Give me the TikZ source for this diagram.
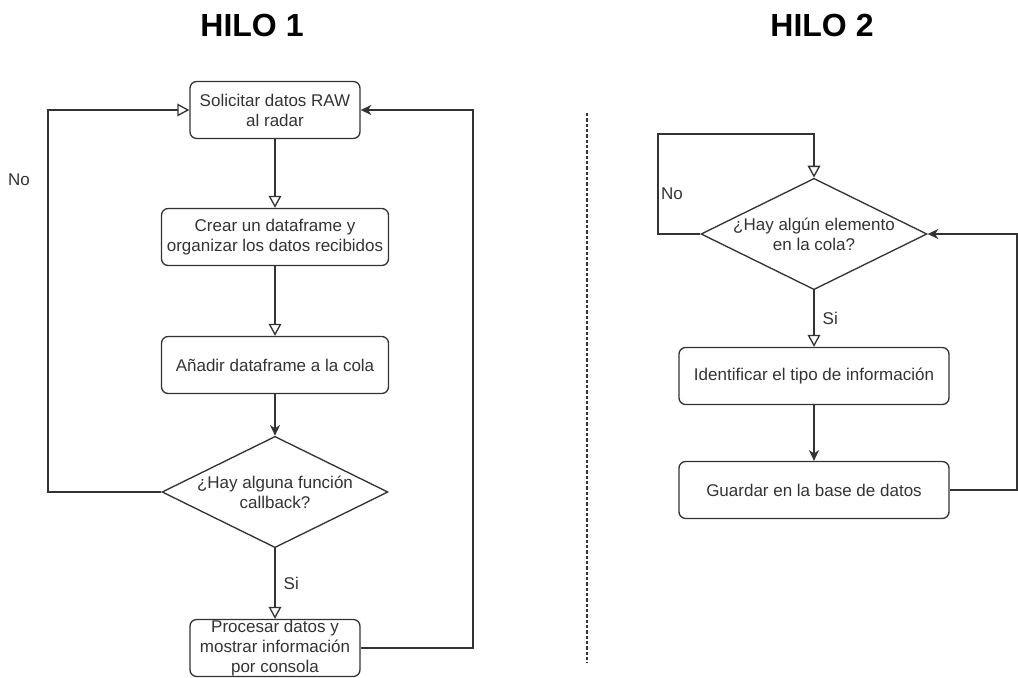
\documentclass[tikz,border=0pt]{standalone}
\usepackage{fontspec}
\setmainfont{Liberation Sans}
\usetikzlibrary{
  arrows.meta,
  shapes.geometric,
  positioning
}
\definecolor{flowLine}{HTML}{333333}
\definecolor{flowText}{HTML}{333333}

\tikzset{
  process/.style={draw=flowLine, line width=1pt, rounded corners=5pt, align=center,
    text=flowText, font=\fontsize{12.75}{15}\selectfont, inner sep=0pt},
  decision/.style={draw=flowLine, line width=1pt, shape=diamond, inner sep=0pt,
    minimum width=169.5pt, minimum height=83.5pt},
  dectext/.style={align=center, text=flowText, font=\fontsize{12.75}{15}\selectfont},
  lbl/.style={text=flowText, font=\fontsize{12.75}{15}\selectfont, inner sep=1pt},
  hilo/.style={font=\fontsize{24}{28}\selectfont\bfseries},
  openarrow/.style={draw=flowLine, line width=1pt, -{Triangle[open, length=9pt, width=9.5pt]}},
  fillarrow/.style={draw=flowLine, line width=1pt, -{Stealth[length=8pt, width=7.5pt, inset=2.5pt]}},
  link/.style={draw=flowLine, line width=1pt}
}

\begin{document}
\begin{tikzpicture}[x=0.75pt, y=-0.75pt]
  \useasboundingbox (0,0) rectangle (1018,678);

  % titulos
  \node[hilo] (title1) at (252,25) {HILO 1};
  \node[hilo] (title2) at (822,25) {HILO 2};

  % hilo 1
  \node[process, minimum width=127.5pt, minimum height=42.75pt] (solicitar) at (275,110)
    {Solicitar datos RAW\\al radar};
  \node[process, minimum width=170.25pt, minimum height=42.75pt] (crear) at (275,237)
    {Crear un dataframe y\\organizar los datos recibidos};
  \node[process, minimum width=170.25pt, minimum height=42.75pt] (anadir) at (275,365)
    {Añadir dataframe a la cola};
  \node[decision] (callback) at (275,492) {};
  \node[dectext] (callbacktxt) at (callback) {¿Hay alguna función\\callback?};
  \node[process, minimum width=127.5pt, minimum height=42.75pt] (procesar) at (275,648)
    {Procesar datos y\\mostrar información\\por consola};

  \coordinate (noLeft) at (48,110);
  \coordinate (backRight) at (473,110);

  \draw[openarrow] (solicitar) -- (crear);
  \draw[openarrow] (crear) -- (anadir);
  \draw[fillarrow] (anadir) -- (callback);
  \draw[openarrow] (callback) -- node[lbl, right=5pt] (si1) {Si} (procesar);
  \draw[openarrow] (callback.west) -| (noLeft) -- (solicitar.west);
  \draw[fillarrow] (procesar.east) -| (backRight) -- (solicitar.east);
  \node[lbl] (no1) at (19,180) {No};

  % separador
  \draw[flowLine, line width=0.9pt, dash pattern=on 2.5pt off 1.5pt] (587,113) -- (587,663);

  % hilo 2
  \node[decision] (cola) at (814,234) {};
  \node[dectext] (colatxt) at (cola) {¿Hay algún elemento\\en la cola?};
  \node[process, minimum width=202.5pt, minimum height=42.75pt] (identificar) at (814,376)
    {Identificar el tipo de información};
  \node[process, minimum width=202.5pt, minimum height=42.75pt] (guardar) at (814,490)
    {Guardar en la base de datos};

  \coordinate (loopTop) at (658,134);
  \coordinate (loopRight) at (1017,490);

  \draw[openarrow] (cola.west) -| (loopTop) -| (cola.north);
  \node[lbl] (no2) at (672,194) {No};
  \draw[openarrow] (cola) -- node[lbl, right=5pt] (si2) {Si} (identificar);
  \draw[fillarrow] (identificar) -- (guardar);
  \draw[fillarrow] (guardar.east) -- (loopRight) |- (cola.east);
\end{tikzpicture}
\end{document}
